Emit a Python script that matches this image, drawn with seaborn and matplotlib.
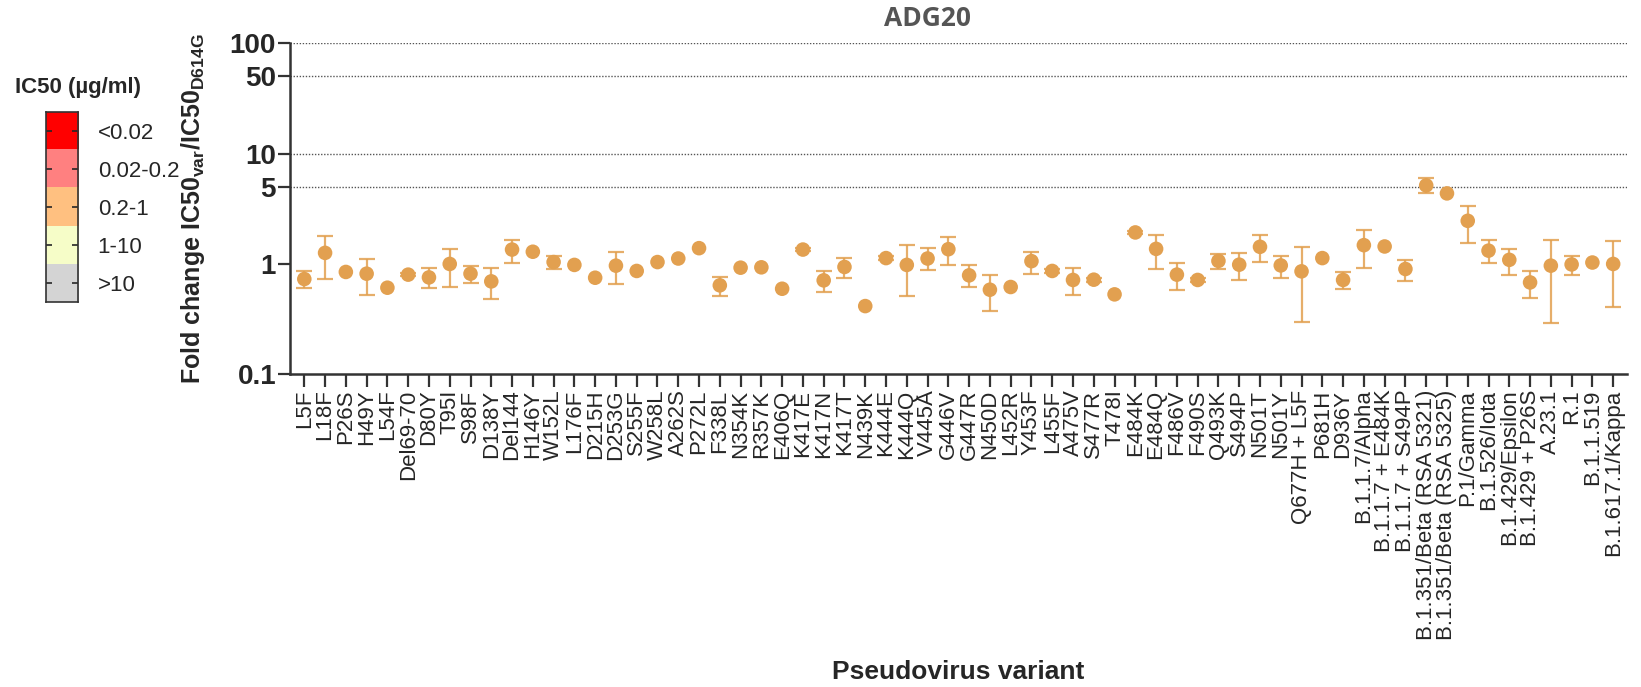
import numpy as np
import pandas as pd
import matplotlib
matplotlib.use("Agg")
import matplotlib.pyplot as plt
from matplotlib.colors import ListedColormap
import seaborn as sns

# Variants and fold change (IC50 var / IC50 D614G), with error bar ends
variants = [
    "L5F", "L18F", "P26S", "H49Y", "L54F", "Del69-70", "D80Y", "T95I", "S98F", "D138Y",
    "Del144", "H146Y", "W152L", "L176F", "D215H", "D253G", "S255F", "W258L", "A262S", "P272L",
    "F338L", "N354K", "R357K", "E406Q", "K417E", "K417N", "K417T", "N439K", "K444E", "K444Q",
    "V445A", "G446V", "G447R", "N450D", "L452R", "Y453F", "L455F", "A475V", "S477R", "T478I",
    "E484K", "E484Q", "F486V", "F490S", "Q493K", "S494P", "N501T", "N501Y", "Q677H + L5F", "P681H",
    "D936Y", "B.1.1.7/Alpha", "B.1.1.7 + E484K", "B.1.1.7 + S494P", "B.1.351/Beta (RSA 5321)",
    "B.1.351/Beta (RSA 5325)", "P.1/Gamma", "B.1.526/Iota", "B.1.429/Epsilon", "B.1.429 + P26S",
    "A.23.1", "R.1", "B.1.1.519", "B.1.617.1/Kappa",
]
fold = [
    0.73, 1.26, 0.846, 0.816, 0.609, 0.80, 0.755, 1.0, 0.816, 0.695,
    1.35, 1.29, 1.04, 0.98, 0.75, 0.965, 0.864, 1.04, 1.12, 1.39,
    0.64, 0.925, 0.932, 0.596, 1.35, 0.71, 0.939, 0.415, 1.13, 0.98,
    1.12, 1.36, 0.788, 0.584, 0.618, 1.06, 0.864, 0.716, 0.72, 0.53,
    1.93, 1.37, 0.80, 0.716, 1.065, 0.985, 1.43, 0.97, 0.857, 1.13,
    0.716, 1.48, 1.44, 0.90, 5.15,
    4.36, 2.46, 1.32, 1.09, 0.68,
    0.965, 0.99, 1.03, 1.0,
]
err_low = [
    0.605, 0.735, np.nan, 0.523, np.nan, 0.77, 0.60, 0.618, 0.672, 0.481,
    1.02, np.nan, 0.906, np.nan, np.nan, 0.662, np.nan, np.nan, np.nan, np.nan,
    0.515, np.nan, np.nan, np.nan, 1.30, 0.56, 0.75, np.nan, 1.09, 0.515,
    0.875, 0.985, 0.613, 0.371, np.nan, 0.816, 0.83, 0.523, 0.69, np.nan,
    1.88, 0.90, 0.575, 0.69, 0.90, 0.72, 1.05, 0.746, 0.30, np.nan,
    0.593, 0.912, np.nan, 0.70, 4.38,
    np.nan, 1.55, 1.02, 0.80, 0.494,
    0.291, 0.80, np.nan, 0.406,
]
err_high = [
    0.857, 1.81, np.nan, 1.12, np.nan, 0.83, 0.912, 1.38, 0.951, 0.92,
    1.66, np.nan, 1.19, np.nan, np.nan, 1.29, np.nan, np.nan, np.nan, np.nan,
    0.762, np.nan, np.nan, np.nan, 1.40, 0.869, 1.14, np.nan, 1.17, 1.47,
    1.40, 1.77, 0.971, 0.80, np.nan, 1.29, 0.90, 0.912, 0.75, np.nan,
    1.98, 1.82, 1.03, 0.74, 1.23, 1.26, 1.82, 1.19, 1.42, np.nan,
    0.839, 2.05, np.nan, 1.09, 5.96,
    np.nan, 3.34, 1.64, 1.37, 0.869,
    1.66, 1.19, np.nan, 1.62,
]

# Legend (IC50 classes)
ic50_labels = ["<0.02", "0.02-0.2", "0.2-1", "1-10", ">10"]
ic50_colors = ["#ff0000", "#ff8080", "#ffc080", "#f6fdc8", "#d4d4d4"]

y_ticks = [0.1, 1, 5, 10, 50, 100]
grid_levels = [5, 10, 50, 100]

point_color = "#e2a050"

sns.set_style("ticks")
plt.rcParams["font.family"] = ["Liberation Sans", "DejaVu Sans"]
plt.rcParams["mathtext.fontset"] = "custom"
plt.rcParams["mathtext.rm"] = "Liberation Sans"
plt.rcParams["mathtext.bf"] = "Liberation Sans:bold"

df = pd.DataFrame({"variant": variants, "fold": fold,
                   "lo": err_low, "hi": err_high})

fig = plt.figure(figsize=(16.41, 6.87), dpi=100)
ax = fig.add_axes([0.1767, 0.4552, 0.8147, 0.4818])

# error bars first, then the points on top
has_err = df["lo"].notna()
xpos = np.arange(len(df))
ax.errorbar(xpos[has_err], df.loc[has_err, "fold"],
            yerr=[df.loc[has_err, "fold"] - df.loc[has_err, "lo"],
                  df.loc[has_err, "hi"] - df.loc[has_err, "fold"]],
            fmt="none", ecolor=point_color, elinewidth=1.6, capsize=6,
            capthick=1.6, alpha=0.85, zorder=2)
sns.scatterplot(data=df.assign(pos=xpos), x="pos", y="fold", ax=ax,
                color=point_color, s=110, edgecolor="none", zorder=3,
                legend=False)

ax.set_yscale("log")
ax.set_ylim(0.1, 100)
ax.set_xlim(-0.69, len(df) - 1 + 0.66)
for g in grid_levels:
    ax.axhline(g, color="#555555", lw=1.0, ls=(0, (1, 1.2)), zorder=1)

ax.set_yticks(y_ticks)
ax.set_yticklabels([f"{t:g}" for t in y_ticks], fontsize=20, fontweight="bold")
ax.yaxis.set_minor_locator(matplotlib.ticker.NullLocator())
ax.set_xticks(xpos)
ax.set_xticklabels(variants, rotation=90, fontsize=16)

ax.tick_params(axis="y", length=9, width=1.6, pad=1, color="#333333")
ax.tick_params(axis="x", length=9, width=1.6, pad=2, color="#333333")
for side in ["left", "bottom"]:
    ax.spines[side].set_linewidth(1.8)
    ax.spines[side].set_color("#333333")
sns.despine(ax=ax)

ax.set_ylabel(r"Fold change IC50$_{\mathbf{var}}$/IC50$_{\mathbf{D614G}}$",
              fontsize=18, fontweight="bold")
ax.yaxis.set_label_coords(-0.062, 0.5)
ax.set_xlabel("Pseudovirus variant", fontsize=19, fontweight="bold")
ax.xaxis.set_label_coords(0.5, -0.90)
ax.xaxis.label.set_va("center")

fig.text(0.565, 1 - 18 / 687, "ADG20", ha="center", va="center",
         fontsize=19, fontweight="bold", color="#555555",
         family=["Open Sans", "DejaVu Sans"])

# IC50 colour key
cax = fig.add_axes([0.0278, 0.56, 0.0199, 0.2766])
cmap = ListedColormap(ic50_colors)
cax.imshow(np.arange(len(ic50_colors)).reshape(-1, 1), cmap=cmap,
           aspect="auto", extent=(0, 1, len(ic50_colors), 0))
cax.set_xticks([])
cax.set_yticks(np.arange(len(ic50_colors)) + 0.5)
cax.set_yticklabels(ic50_labels, fontsize=16)
cax.yaxis.tick_right()
cax.tick_params(axis="y", direction="in", length=4, width=1.2,
                left=True, right=True, pad=14)
for sp in cax.spines.values():
    sp.set_linewidth(1.2)
    sp.set_color("#333333")
fig.text(0.0091, 1 - 88 / 687, "IC50 (µg/ml)", ha="left", va="center",
         fontsize=16, fontweight="bold")

fig.savefig("out.png", dpi=100)
